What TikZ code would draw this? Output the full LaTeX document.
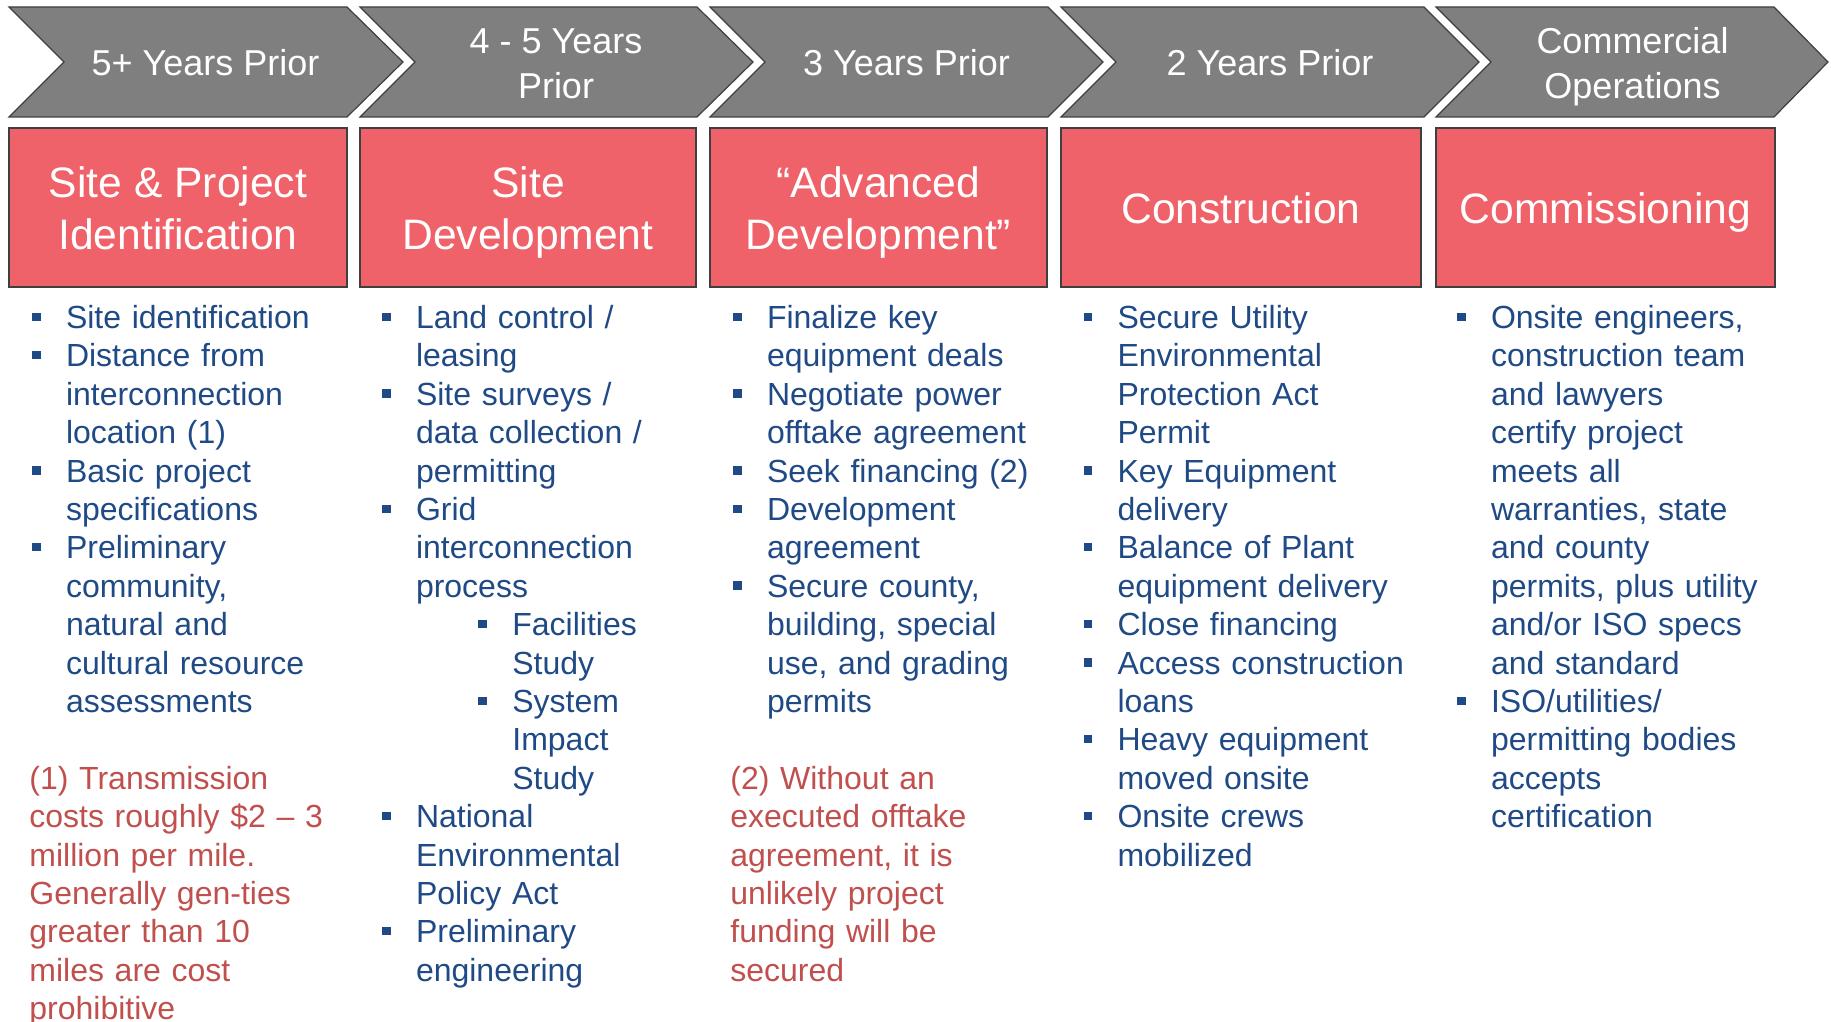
\documentclass[tikz,border=0pt]{standalone}
\usepackage{fontspec}
\setmainfont{Liberation Sans}
\usetikzlibrary{positioning}
\definecolor{chevgray}{HTML}{7F7F7F}
\definecolor{chevline}{HTML}{3F3F3F}
\definecolor{phasered}{HTML}{F0626A}
\definecolor{listblue}{HTML}{1F4A85}
\definecolor{notered}{HTML}{C0504D}
\newcommand{\sqbul}{\raisebox{3.8pt}{\rule{4.2pt}{4.2pt}}}
\newcommand{\itm}[1]{\hangindent=16.8pt\hangafter=1\noindent\makebox[16.8pt][l]{\sqbul}#1\par}
\newcommand{\subitm}[1]{\hangindent=65pt\hangafter=1\noindent\hspace*{48pt}\makebox[17pt][l]{\sqbul}#1\par}
% invisible rules that fix the height and depth of the title lines
\newcommand{\yrtop}{\rule{0pt}{20pt}}
\newcommand{\phtop}{\rule{0pt}{22pt}}
\newcommand{\lowrule}{\rule[-6pt]{0pt}{6pt}}

\begin{document}
\begin{tikzpicture}[
    x=0.5pt, y=-0.5pt,
    chev/.style={draw=chevline, fill=chevgray, line width=0.6pt},
    yearlbl/.style={text=white, align=center, font=\fontsize{18}{22.2}\selectfont},
    phasebox/.style={%
      draw=chevline,
      fill=phasered,
      line width=0.8pt,
      text=white,
      align=center,
      inner sep=0pt,
      minimum height=79.5pt,
      font=\fontsize{21.3}{25.6}\selectfont,
    },
    items/.style={text=listblue, anchor=base west, inner sep=0pt, align=left, text width=175pt, font=\fontsize{16}{19.2}\selectfont},
    notetxt/.style={items, text=notered},
  ]
    \useasboundingbox (0,0) rectangle (1831,1022);

    % timeline
    \draw[chev] (9,7) -- (347,7) -- (403,62) -- (347,117) -- (9,117) -- (64,62) -- cycle;
    \node[yearlbl] (yr1) at (205.5,62) {\yrtop 5+ Years Prior\lowrule};
    \draw[chev] (360,7) -- (697,7) -- (753,62) -- (697,117) -- (360,117) -- (415,62) -- cycle;
    \node[yearlbl] (yr2) at (556,62) {\yrtop 4 - 5 Years\\Prior\lowrule};
    \draw[chev] (710,7) -- (1048,7) -- (1103,62) -- (1048,117) -- (710,117) -- (765,62) -- cycle;
    \node[yearlbl] (yr3) at (906.5,62) {\yrtop 3 Years Prior\lowrule};
    \draw[chev] (1061,7) -- (1424,7) -- (1479,62) -- (1424,117) -- (1061,117) -- (1116,62) -- cycle;
    \node[yearlbl] (yr4) at (1270,62) {\yrtop 2 Years Prior\lowrule};
    \draw[chev] (1436,7) -- (1774,7) -- (1828,62) -- (1774,117) -- (1436,117) -- (1491,62) -- cycle;
    \node[yearlbl] (yr5) at (1632.5,62) {\yrtop Commercial\\Operations\lowrule};

    % phases
    \node[phasebox, minimum width=169pt] (ph1) at (178,207.5) {\phtop Site \& Project\\Identification\lowrule};
    \node[phasebox, minimum width=168pt] (ph2) at (528,207.5) {\phtop Site\\Development\lowrule};
    \node[phasebox, minimum width=168.5pt] (ph3) at (878.5,207.5) {\phtop “Advanced\\Development”\lowrule};
    \node[phasebox, minimum width=180pt] (ph4) at (1241,207.5) {\phtop Construction\lowrule};
    \node[phasebox, minimum width=169.5pt] (ph5) at (1605.5,207.5) {\phtop Commissioning\lowrule};

    % tasks
    \node[items] (list1) at (32,328.5) {%
      \itm{Site identification}
      \itm{Distance from\newline interconnection\newline location (1)}
      \itm{Basic project\newline specifications}
      \itm{Preliminary\newline community,\newline natural and\newline cultural resource\newline assessments}};
    \node[items] (list2) at (382,328.5) {%
      \itm{Land control /\newline leasing}
      \itm{Site surveys /\newline data collection /\newline permitting}
      \itm{Grid\newline interconnection\newline process}
      \subitm{Facilities\newline Study}
      \subitm{System\newline Impact\newline Study}
      \itm{National\newline Environmental\newline Policy Act}
      \itm{Preliminary\newline engineering}};
    \node[items] (list3) at (733,328.5) {%
      \itm{Finalize key\newline equipment deals}
      \itm{Negotiate power\newline offtake agreement}
      \itm{Seek financing (2)}
      \itm{Development\newline agreement}
      \itm{Secure county,\newline building, special\newline use, and grading\newline permits}};
    \node[items] (list4) at (1083.5,328.5) {%
      \itm{Secure Utility\newline Environmental\newline Protection Act\newline Permit}
      \itm{Key Equipment\newline delivery}
      \itm{Balance of Plant\newline equipment delivery}
      \itm{Close financing}
      \itm{Access construction\newline loans}
      \itm{Heavy equipment\newline moved onsite}
      \itm{Onsite crews\newline mobilized}};
    \node[items] (list5) at (1457,328.5) {%
      \itm{Onsite engineers,\newline construction team\newline and lawyers\newline certify project\newline meets all\newline warranties, state\newline and county\newline permits, plus utility\newline and/or ISO specs\newline and standard}
      \itm{ISO/utilities/\newline permitting bodies\newline accepts\newline certification}};

    % footnotes
    \node[notetxt] (note1) at (29,789.3) {(1) Transmission\\costs roughly \$2 – 3\\million per mile.\\Generally gen-ties\\greater than 10\\miles are cost\\prohibitive};
    \node[notetxt] (note2) at (730,789.3) {(2) Without an\\executed offtake\\agreement, it is\\unlikely project\\funding will be\\secured};
\end{tikzpicture}
\end{document}
